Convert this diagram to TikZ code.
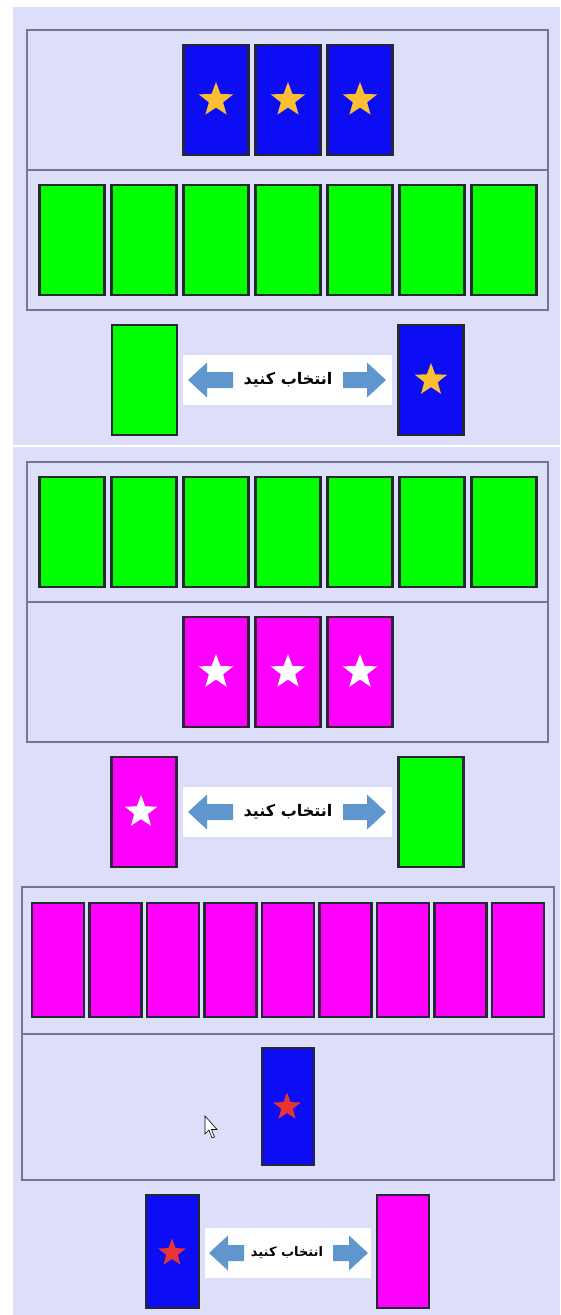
\documentclass[tikz,border=0pt]{standalone}
\usepackage{fontspec}
\usetikzlibrary{shapes.geometric}
\newfontfamily\arabicfont[Script=Arabic]{DejaVu Sans}
\TeXXeTstate=1
\definecolor{bgc}{RGB}{221,222,250}
\definecolor{panelc}{RGB}{118,118,140}
\definecolor{cardedge}{RGB}{40,40,50}
\definecolor{cblue}{RGB}{12,12,245}
\definecolor{cgreen}{RGB}{0,255,0}
\definecolor{cmag}{RGB}{255,0,255}
\definecolor{cgold}{RGB}{250,190,50}
\definecolor{cred}{RGB}{232,52,52}
\definecolor{arrowc}{RGB}{95,150,205}
\tikzset{
  card/.style={draw=cardedge, line width=2.2pt, inner sep=0pt, minimum width=65pt, minimum height=110pt},
  pcard/.style={card, minimum width=52pt, minimum height=114pt},
  starmark/.style={star, star points=5, star point ratio=2.4, inner sep=0pt, minimum size=36pt, draw=none},
  panel/.style={draw=panelc, line width=1.6pt, fill=bgc},
  labelbox/.style={fill=white, draw=none},
  labeltext/.style={font=\arabicfont\bfseries\fontsize{16}{19}\selectfont, inner sep=0pt},
  barrow/.pic={\fill[arrowc] (0,0) -- (19,-17.5) -- (19,-8) -- (#1,-8) -- (#1,8) -- (19,8) -- (19,17.5) -- cycle;}
}
\begin{document}
\begin{tikzpicture}[x=1pt,y=-1pt]
\useasboundingbox (0,0) rectangle (560,1315);
\fill[white] (0,0) rectangle (560,1315);
\fill[bgc] (13,7) rectangle (560,445);
\fill[bgc] (13,447) rectangle (560,1315);

% ---------- Panel 1 ----------
\draw[panel] (27,30) rectangle (548,310);
\draw[panelc, line width=1.6pt] (27,170) -- (548,170);
\foreach \i/\x in {1/216,2/288,3/360} {
  \node[card, fill=cblue] (pa\i) at (\x,100) {};
  \node[starmark, fill=cgold] (sa\i) at (\x,100) {};
}
\foreach \i/\x in {1/72,2/144,3/216,4/288,5/360,6/432,7/504} {
  \node[card, fill=cgreen] (ga\i) at (\x,240) {};
}

% ---------- Label row 1 ----------
\node[card, fill=cgreen] (la) at (144.5,380) {};
\node[card, fill=cblue] (ra) at (431,380) {};
\node[starmark, fill=cgold, minimum size=34pt] (rsa) at (431,380) {};
\fill[labelbox] (183,355) rectangle (392,405);
\pic at (188,380) {barrow=45};
\pic[xscale=-1] at (386,380) {barrow=43};
\node[labeltext] (ta) at (288,380) {\beginR انتخاب کنید\endR};

% ---------- Panel 2 ----------
\draw[panel] (27,462) rectangle (548,742);
\draw[panelc, line width=1.6pt] (27,602) -- (548,602);
\foreach \i/\x in {1/72,2/144,3/216,4/288,5/360,6/432,7/504} {
  \node[card, fill=cgreen] (gb\i) at (\x,532) {};
}
\foreach \i/\x in {1/216,2/288,3/360} {
  \node[card, fill=cmag] (pb\i) at (\x,672) {};
  \node[starmark, fill=white] (sb\i) at (\x,672) {};
}

% ---------- Label row 2 ----------
\node[card, fill=cmag] (lb) at (144,812) {};
\node[starmark, fill=white, minimum size=34pt] (lsb) at (141,812) {};
\node[card, fill=cgreen] (rb) at (431,812) {};
\fill[labelbox] (183,787) rectangle (392,837);
\pic at (188,812) {barrow=45};
\pic[xscale=-1] at (386,812) {barrow=43};
\node[labeltext] (tb) at (288,812) {\beginR انتخاب کنید\endR};

% ---------- Panel 3 ----------
\draw[panel] (22,887) rectangle (554,1180);
\draw[panelc, line width=1.6pt] (22,1034) -- (554,1034);
\foreach \i/\x in {1/58,2/115.5,3/173,4/230.5,5/288,6/345.5,7/403,8/460.5,9/518} {
  \node[pcard, fill=cmag] (mc\i) at (\x,960) {};
}
\node[pcard, fill=cblue, minimum height=117pt] (pc) at (288,1106.5) {};
\node[starmark, fill=cred, minimum size=29pt] (sc) at (287,1107) {};
\fill[white, draw=black, line width=0.6pt] (205,1116) -- (205,1134) -- (209,1130) -- (212,1138) -- (214.5,1137) -- (211.5,1129.5) -- (217,1129.5) -- cycle;

% ---------- Label row 3 ----------
\node[pcard, fill=cblue, minimum width=53pt, minimum height=113pt] (lc) at (172.5,1251.5) {};
\node[starmark, fill=cred, minimum size=29pt] (lsc) at (172,1253) {};
\node[pcard, fill=cmag, minimum width=52pt, minimum height=113pt] (rc) at (403,1251.5) {};
\fill[labelbox] (205,1228) rectangle (371,1278);
\pic at (209,1253) {barrow=35};
\pic[xscale=-1] at (368,1253) {barrow=35};
\node[labeltext, font=\arabicfont\bfseries\fontsize{13}{15}\selectfont] (tc) at (287,1253) {\beginR انتخاب کنید\endR};
\end{tikzpicture}
\end{document}
